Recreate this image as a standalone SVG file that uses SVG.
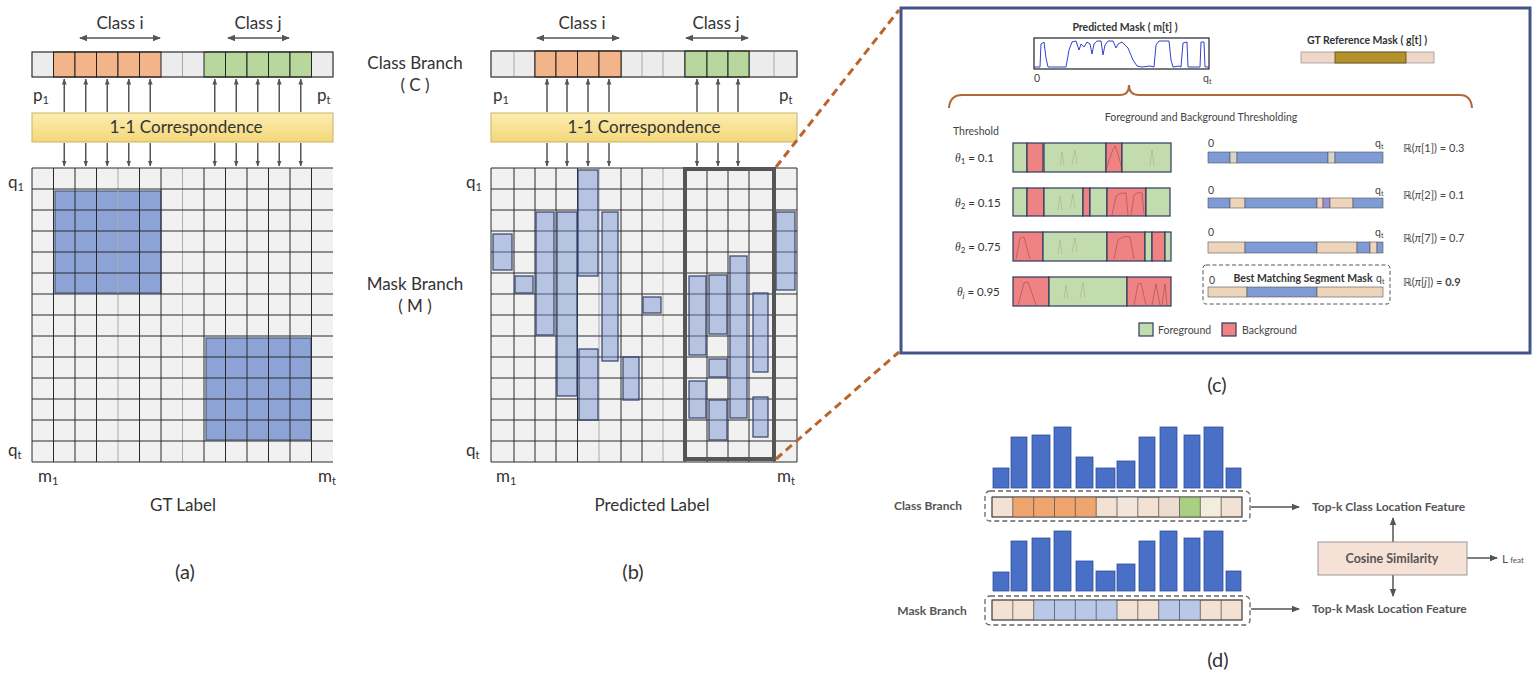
<svg xmlns="http://www.w3.org/2000/svg" width="1538" height="678" viewBox="0 0 1538 678">
<defs>
<style>
text{font-family:Lato,"Open Sans","DejaVu Sans",sans-serif;fill:#333}
.big{font-size:17px}
.lab{font-size:20px}
.sm{font-size:10.5px;fill:#444}
.smb{font-size:10.5px;font-weight:bold;fill:#333}
.db{font-size:12px;font-weight:bold;fill:#555}
.cell{fill:#ececec;stroke:#bbb;stroke-width:1}
.or{fill:#f3b48a;stroke:#222;stroke-width:1}
.gr{fill:#b7d79c;stroke:#222;stroke-width:1}
.grid{fill:none;stroke:#2a2a2a;stroke-width:1}
.gridl{fill:none;stroke:#aaa;stroke-width:1}
.arr{stroke:#555;stroke-width:1.5;fill:none}
.ua{stroke:#555;stroke-width:1.5;fill:none;marker-end:url(#ahs)}
.corr{fill:url(#yel);stroke:#c8b36a;stroke-width:1}
.bsq{fill:#8da3d6;stroke:#4a5a80;stroke-width:1.2}
.bpr{fill:#6f8fd0;fill-opacity:0.45;stroke:#34406a;stroke-width:1.2}
.fg{fill:#c3dcae;stroke:#2d3b5e;stroke-width:1.2}
.bg{fill:#ef8383;stroke:#2d3b5e;stroke-width:1.2}
.mb{fill:#7f9bd5;stroke:#555;stroke-width:0.6}
.mbe{fill:#efd4bc;stroke:#555;stroke-width:0.6}
.ml{fill:#d9d4c8;stroke:#555;stroke-width:0.6}
.bar{fill:#4a6fc6;stroke:#2f4f9a;stroke-width:0.8}
.dbox{fill:none;stroke:#666;stroke-width:1.3;stroke-dasharray:5 3}
.dc{stroke:#555;stroke-width:0.8}
.wave{fill:none;stroke:#8a3a3a;stroke-width:0.6;opacity:0.8}
.wg{fill:none;stroke:#9aab8a;stroke-width:0.5}
</style>
<linearGradient id="yel" x1="0" y1="0" x2="0" y2="1">
<stop offset="0" stop-color="#fcedb0"/>
<stop offset="1" stop-color="#f3d77a"/>
</linearGradient>
<marker id="ah" markerWidth="8" markerHeight="8" refX="7" refY="4" orient="auto-start-reverse" markerUnits="userSpaceOnUse">
<path d="M0,0.8 L8,4 L0,7.2 z" fill="#555"/>
</marker>
<marker id="ahs" markerWidth="6" markerHeight="6" refX="5.5" refY="3" orient="auto-start-reverse" markerUnits="userSpaceOnUse">
<path d="M0,0.6 L6,3 L0,5.4 z" fill="#555"/>
</marker>
</defs>
<rect width="1538" height="678" fill="#fff"/>

<!-- Panel (a) -->
<g id="panel-a">
<text class="big" x="120" y="29" text-anchor="middle">Class i</text>
<line class="arr" x1="80" y1="38" x2="160" y2="38" marker-start="url(#ah)" marker-end="url(#ah)"/>
<text class="big" x="258" y="29" text-anchor="middle">Class j</text>
<line class="arr" x1="228" y1="38" x2="289" y2="38" marker-start="url(#ah)" marker-end="url(#ah)"/>
<g id="a-classbar">
<rect class="cell" x="32" y="52" width="301" height="25"/>
<rect class="or" x="53.5" y="52" width="21.5" height="25"/>
<rect class="or" x="75" y="52" width="21.5" height="25"/>
<rect class="or" x="96.5" y="52" width="21.5" height="25"/>
<rect class="or" x="118" y="52" width="21.5" height="25"/>
<rect class="or" x="139.5" y="52" width="21.5" height="25"/>
<line class="gridl" x1="182.5" y1="52" x2="182.5" y2="77"/>
<rect class="gr" x="204" y="52" width="21.5" height="25"/>
<rect class="gr" x="225.5" y="52" width="21.5" height="25"/>
<rect class="gr" x="247" y="52" width="21.5" height="25"/>
<rect class="gr" x="268.5" y="52" width="21.5" height="25"/>
<rect class="gr" x="290" y="52" width="21.5" height="25"/>
<rect x="32" y="52" width="301" height="25" fill="none" stroke="#222" stroke-width="1"/>
</g>
<text class="big" x="33" y="101">p<tspan font-size="11" dy="3">1</tspan></text>
<text class="big" x="317" y="101">p<tspan font-size="11" dy="3">t</tspan></text>
<g id="a-corr">
<rect class="corr" x="32" y="113" width="301" height="29"/>
<text class="big" x="186" y="133" text-anchor="middle">1-1 Correspondence</text>
</g>
<g id="a-grid">
<rect x="32" y="168" width="301" height="294" fill="#f1f1f1"/>
<rect class="bsq" x="55" y="191" width="106" height="102"/>
<rect class="bsq" x="206" y="338" width="105" height="102"/>
<path class="grid" d="M32,168V462M53.5,168V462M75,168V462M96.5,168V462M139.5,168V462M161,168V462M204,168V462M225.5,168V462M247,168V462M268.5,168V462M290,168V462M311.5,168V462"/>
<path class="gridl" d="M118,168V462M182.5,168V462"/>
<path class="grid" d="M32,168H333M32,189H333M32,210H333M32,231H333M32,252H333M32,273H333M32,294H333M32,315H333M32,336H333M32,357H333M32,378H333M32,399H333M32,420H333M32,441H333M32,462H333"/>
</g>
<text class="big" x="8" y="188">q<tspan font-size="11" dy="3">1</tspan></text>
<text class="big" x="8" y="456">q<tspan font-size="11" dy="3">t</tspan></text>
<text class="big" x="38" y="482">m<tspan font-size="11" dy="3">1</tspan></text>
<text class="big" x="318" y="482">m<tspan font-size="11" dy="3">t</tspan></text>
<text class="big" x="183" y="511" text-anchor="middle">GT Label</text>
<text class="lab" x="185" y="579" text-anchor="middle">(a)</text>
</g>

<!-- Panel (b) -->
<g id="panel-b">
<text class="big" x="582" y="29" text-anchor="middle">Class i</text>
<line class="arr" x1="537" y1="38" x2="619" y2="38" marker-start="url(#ah)" marker-end="url(#ah)"/>
<text class="big" x="716" y="29" text-anchor="middle">Class j</text>
<line class="arr" x1="686" y1="38" x2="748" y2="38" marker-start="url(#ah)" marker-end="url(#ah)"/>
<text class="big" x="415" y="69" text-anchor="middle">Class Branch</text>
<text class="big" x="415" y="91" text-anchor="middle">( C )</text>
<text class="big" x="415" y="290" text-anchor="middle">Mask Branch</text>
<text class="big" x="415" y="312" text-anchor="middle">( M )</text>
<g id="b-classbar">
<rect class="cell" x="491" y="51" width="306" height="26"/>
<path class="gridl" d="M514,51V77M642,51V77M663,51V77M774,51V77"/>
<path class="grid" d="M535,51V77M621,51V77M685,51V77M749,51V77"/>
<rect class="or" x="535" y="51" width="21" height="26"/>
<rect class="or" x="556" y="51" width="21.5" height="26"/>
<rect class="or" x="577.5" y="51" width="21.5" height="26"/>
<rect class="or" x="599" y="51" width="22" height="26"/>
<rect class="gr" x="685" y="51" width="22" height="26"/>
<rect class="gr" x="707" y="51" width="21" height="26"/>
<rect class="gr" x="728" y="51" width="21" height="26"/>
<rect x="491" y="51" width="306" height="26" fill="none" stroke="#222" stroke-width="1"/>
</g>
<text class="big" x="493" y="101">p<tspan font-size="11" dy="3">1</tspan></text>
<text class="big" x="779" y="101">p<tspan font-size="11" dy="3">t</tspan></text>
<g id="b-corr">
<rect class="corr" x="491" y="113" width="306" height="29"/>
<text class="big" x="644" y="133" text-anchor="middle">1-1 Correspondence</text>
</g>
<g id="b-grid">
<rect x="491" y="168" width="306" height="294" fill="#f1f1f1"/>
<path class="grid" d="M491,168V462M514,168V462M535,168V462M556,168V462M577.5,168V462M621,168V462M642,168V462M685,168V462M707,168V462M728,168V462M749,168V462M774,168V462M797,168V462"/>
<path class="gridl" d="M599,168V462M663,168V462"/>
<path class="grid" d="M491,168H797M491,189H797M491,210H797M491,231H797M491,252H797M491,273H797M491,294H797M491,315H797M491,336H797M491,357H797M491,378H797M491,399H797M491,420H797M491,441H797M491,462H797"/>
<rect class="bpr" x="493" y="234" width="19" height="36"/>
<rect class="bpr" x="515" y="276" width="18" height="17"/>
<rect class="bpr" x="536" y="212" width="18" height="123"/>
<rect class="bpr" x="557" y="212" width="20" height="184"/>
<rect class="bpr" x="578" y="170" width="20" height="106"/>
<rect class="bpr" x="602" y="212" width="16" height="149"/>
<rect class="bpr" x="579" y="349" width="19" height="71"/>
<rect class="bpr" x="623" y="357" width="16" height="43"/>
<rect class="bpr" x="643" y="297" width="18" height="16"/>
<rect class="bpr" x="689" y="276" width="17" height="79"/>
<rect class="bpr" x="709" y="275" width="18" height="59"/>
<rect class="bpr" x="730" y="256" width="17" height="162"/>
<rect class="bpr" x="753" y="293" width="15" height="79"/>
<rect class="bpr" x="776" y="212" width="19" height="78"/>
<rect class="bpr" x="709" y="359" width="18" height="18"/>
<rect class="bpr" x="689" y="381" width="17" height="37"/>
<rect class="bpr" x="709" y="400" width="18" height="40"/>
<rect class="bpr" x="753" y="397" width="15" height="40"/>
<rect x="685" y="169" width="89" height="290" fill="none" stroke="#555" stroke-width="4"/>
</g>
<text class="big" x="466" y="188">q<tspan font-size="11" dy="3">1</tspan></text>
<text class="big" x="466" y="456">q<tspan font-size="11" dy="3">t</tspan></text>
<text class="big" x="496" y="482">m<tspan font-size="11" dy="3">1</tspan></text>
<text class="big" x="777" y="482">m<tspan font-size="11" dy="3">t</tspan></text>
<text class="big" x="652" y="511" text-anchor="middle">Predicted Label</text>
<text class="lab" x="633" y="579" text-anchor="middle">(b)</text>
</g>

<!-- Connectors -->
<g id="connectors">
<g id="a-arrows">
<line class="ua" x1="64.25" y1="112" x2="64.25" y2="79"/>
<line class="ua" x1="85.75" y1="112" x2="85.75" y2="79"/>
<line class="ua" x1="107.25" y1="112" x2="107.25" y2="79"/>
<line class="ua" x1="128.75" y1="112" x2="128.75" y2="79"/>
<line class="ua" x1="150.25" y1="112" x2="150.25" y2="79"/>
<line class="ua" x1="214.75" y1="112" x2="214.75" y2="79"/>
<line class="ua" x1="236.25" y1="112" x2="236.25" y2="79"/>
<line class="ua" x1="257.75" y1="112" x2="257.75" y2="79"/>
<line class="ua" x1="279.25" y1="112" x2="279.25" y2="79"/>
<line class="ua" x1="300.75" y1="112" x2="300.75" y2="79"/>
<line class="ua" x1="64.25" y1="143" x2="64.25" y2="166"/>
<line class="ua" x1="85.75" y1="143" x2="85.75" y2="166"/>
<line class="ua" x1="107.25" y1="143" x2="107.25" y2="166"/>
<line class="ua" x1="128.75" y1="143" x2="128.75" y2="166"/>
<line class="ua" x1="150.25" y1="143" x2="150.25" y2="166"/>
<line class="ua" x1="214.75" y1="143" x2="214.75" y2="166"/>
<line class="ua" x1="236.25" y1="143" x2="236.25" y2="166"/>
<line class="ua" x1="257.75" y1="143" x2="257.75" y2="166"/>
<line class="ua" x1="279.25" y1="143" x2="279.25" y2="166"/>
<line class="ua" x1="300.75" y1="143" x2="300.75" y2="166"/>
</g>
<g id="b-arrows">
<line class="ua" x1="547" y1="112" x2="547" y2="79"/>
<line class="ua" x1="567" y1="112" x2="567" y2="79"/>
<line class="ua" x1="588" y1="112" x2="588" y2="79"/>
<line class="ua" x1="609" y1="112" x2="609" y2="79"/>
<line class="ua" x1="697" y1="112" x2="697" y2="79"/>
<line class="ua" x1="718" y1="112" x2="718" y2="79"/>
<line class="ua" x1="738" y1="112" x2="738" y2="79"/>
<line class="ua" x1="547" y1="143" x2="547" y2="166"/>
<line class="ua" x1="567" y1="143" x2="567" y2="166"/>
<line class="ua" x1="588" y1="143" x2="588" y2="166"/>
<line class="ua" x1="609" y1="143" x2="609" y2="166"/>
<line class="ua" x1="697" y1="143" x2="697" y2="166"/>
<line class="ua" x1="718" y1="143" x2="718" y2="166"/>
<line class="ua" x1="738" y1="143" x2="738" y2="166"/>
</g>
<line x1="776" y1="167" x2="899" y2="10" stroke="#b8652e" stroke-width="3" stroke-dasharray="8 5"/>
<line x1="776" y1="459" x2="899" y2="352" stroke="#b8652e" stroke-width="3" stroke-dasharray="8 5"/>
<g id="c-arrows">
<line class="arr" stroke-width="1" x1="1182" y1="158" x2="1198" y2="158" marker-start="url(#ahs)" marker-end="url(#ahs)"/>
<line class="arr" stroke-width="1" x1="1182" y1="202" x2="1198" y2="202" marker-start="url(#ahs)" marker-end="url(#ahs)"/>
<line class="arr" stroke-width="1" x1="1182" y1="247" x2="1198" y2="247" marker-start="url(#ahs)" marker-end="url(#ahs)"/>
<line class="arr" stroke-width="1" x1="1182" y1="291" x2="1201" y2="291" marker-start="url(#ahs)" marker-end="url(#ahs)"/>
</g>
<g id="d-arrows">
<line class="arr" x1="1251" y1="507" x2="1299" y2="507" marker-end="url(#ah)"/>
<line class="arr" x1="1251" y1="609" x2="1299" y2="609" marker-end="url(#ah)"/>
<line class="arr" x1="1393" y1="542" x2="1393" y2="518" marker-end="url(#ah)"/>
<line class="arr" x1="1393" y1="575" x2="1393" y2="596" marker-end="url(#ah)"/>
<line class="arr" x1="1467" y1="558" x2="1497" y2="558" marker-end="url(#ah)"/>
</g>
</g>

<!-- Panel (c) -->
<g id="panel-c">
<rect x="901" y="8" width="629" height="345" fill="#fff" stroke="#44548a" stroke-width="3"/>
<text class="smb" x="1125" y="31" text-anchor="middle">Predicted Mask ( m[t] )</text>
<rect x="1034" y="38" width="175" height="31" fill="#fff" stroke="#222" stroke-width="1.2"/>
<path fill="none" stroke="#3340d0" stroke-width="1" d="M1034,67 L1040,67 L1041,44 L1044,42 L1046,58 L1048,67 L1066,67 L1069,50 L1072,42 L1076,41 L1079,50 L1081,44 L1084,47 L1087,42 L1090,44 L1092,54 L1094,44 L1097,41 L1101,41 L1103,55 L1105,45 L1108,41 L1113,41 L1116,48 L1118,44 L1122,42 L1128,48 L1133,60 L1137,66 L1142,67 L1150,66 L1154,67 L1156,45 L1159,41 L1169,41 L1171,60 L1173,67 L1179,66 L1181,67 L1183,43 L1187,42 L1188,67 L1200,67 L1201,42 L1204,42 L1205,67 L1209,67"/>
<text class="sm" x="1034" y="82">0</text>
<text class="sm" x="1203" y="82">q<tspan font-size="7" dy="2">t</tspan></text>
<text class="smb" x="1367" y="44" text-anchor="middle">GT Reference Mask ( g[t] )</text>
<rect x="1301" y="52" width="133" height="11" fill="#efd6c8" stroke="#999" stroke-width="0.8"/>
<rect x="1335" y="52" width="71" height="11" fill="#b5912b" stroke="#5a4a10" stroke-width="0.8"/>
<path fill="none" stroke="#b0693a" stroke-width="2" d="M949,108 Q950,95 962,95 L1120,95 Q1129,95 1129,85 Q1129,95 1139,95 L1460,95 Q1471,95 1472,108"/>
<text class="sm" x="1201" y="121" text-anchor="middle">Foreground and Background Thresholding</text>
<text class="sm" x="953" y="135">Threshold</text>
<text x="955" y="162" style="font-size:11.5px"><tspan font-style="italic" font-family="'Liberation Serif',serif">θ</tspan><tspan font-size="8" dy="2">1</tspan><tspan dy="-2"> = 0.1</tspan></text>
<text x="955" y="207" style="font-size:11.5px"><tspan font-style="italic" font-family="'Liberation Serif',serif">θ</tspan><tspan font-size="8" dy="2">2</tspan><tspan dy="-2"> = 0.15</tspan></text>
<text x="955" y="251" style="font-size:11.5px"><tspan font-style="italic" font-family="'Liberation Serif',serif">θ</tspan><tspan font-size="8" dy="2">2</tspan><tspan dy="-2"> = 0.75</tspan></text>
<text x="957" y="296" style="font-size:11.5px"><tspan font-style="italic" font-family="'Liberation Serif',serif">θ</tspan><tspan font-size="8" dy="2" font-style="italic">j</tspan><tspan dy="-2"> = 0.95</tspan></text>
<g id="c-row1">
<rect class="fg" x="1013" y="143" width="14" height="29"/>
<rect class="bg" x="1027" y="143" width="16" height="29"/>
<rect class="fg" x="1044" y="143" width="62" height="29"/>
<rect class="bg" x="1106" y="143" width="16" height="29"/>
<rect class="fg" x="1122" y="143" width="49" height="29"/>
<path class="wave" d="M1106,170 Q1112,150 1115,146 Q1118,152 1122,170"/>
<path class="wg" d="M1060,166 L1062,152 L1064,166 M1072,165 L1075,150 L1077,164 M1150,166 L1152,150 L1154,166"/>
</g>
<g id="c-row2">
<rect class="fg" x="1013" y="188" width="14" height="28"/>
<rect class="bg" x="1027" y="188" width="17" height="28"/>
<rect class="fg" x="1044" y="188" width="39" height="28"/>
<rect class="bg" x="1083" y="188" width="7" height="28"/>
<rect class="fg" x="1090" y="188" width="17" height="28"/>
<rect class="bg" x="1107" y="188" width="39" height="28"/>
<rect class="fg" x="1146" y="188" width="24" height="28"/>
<path class="wave" d="M1112,215 L1116,196 Q1120,192 1126,193 L1128,215 M1131,215 L1134,195 Q1138,191 1142,193 L1144,214"/>
<path class="wg" d="M1058,210 L1060,196 L1062,210 M1070,209 L1073,194 L1075,208"/>
</g>
<g id="c-row3">
<rect class="bg" x="1013" y="232" width="30" height="29"/>
<rect class="fg" x="1043" y="232" width="64" height="29"/>
<rect class="bg" x="1107" y="232" width="38" height="29"/>
<rect class="fg" x="1145" y="232" width="7" height="29"/>
<rect class="bg" x="1152" y="232" width="13" height="29"/>
<rect class="fg" x="1165" y="232" width="6" height="29"/>
<path class="wave" d="M1016,259 L1020,238 L1024,237 L1030,259 M1114,259 L1118,240 Q1124,235 1130,237 L1134,259"/>
<path class="wg" d="M1058,254 L1060,240 L1062,254 M1072,253 L1075,238 L1077,252"/>
</g>
<g id="c-row4">
<rect class="bg" x="1013" y="277" width="36" height="29"/>
<rect class="fg" x="1049" y="277" width="78" height="29"/>
<rect class="bg" x="1127" y="277" width="44" height="29"/>
<path class="wave" d="M1018,305 L1024,283 L1028,282 L1036,305 M1134,305 L1138,284 L1141,283 L1146,305 M1152,305 L1156,284 L1160,305 M1162,305 L1165,284 L1167,305"/>
<path class="wg" d="M1064,299 L1066,285 L1068,299 M1080,298 L1083,283 L1085,297"/>
</g>
<g id="c-mask1">
<text class="sm" x="1208" y="147">0</text>
<text class="sm" x="1375" y="147">q<tspan font-size="7" dy="2">t</tspan></text>
<rect class="mb" x="1208" y="152" width="22" height="11"/>
<rect class="ml" x="1230" y="152" width="7" height="11"/>
<rect class="mb" x="1237" y="152" width="91" height="11"/>
<rect class="ml" x="1328" y="152" width="7" height="11"/>
<rect class="mb" x="1335" y="152" width="48" height="11"/>
</g>
<g id="c-mask2">
<text class="sm" x="1208" y="194">0</text>
<text class="sm" x="1375" y="194">q<tspan font-size="7" dy="2">t</tspan></text>
<rect class="mb" x="1208" y="198" width="22" height="10"/>
<rect class="mbe" x="1230" y="198" width="15" height="10"/>
<rect class="mb" x="1245" y="198" width="72" height="10"/>
<rect class="mbe" x="1317" y="198" width="6" height="10"/>
<rect x="1323" y="198" width="7" height="10" fill="#9a8fd0" stroke="#555" stroke-width="0.6"/>
<rect class="mbe" x="1330" y="198" width="23" height="10"/>
<rect class="mb" x="1353" y="198" width="30" height="10"/>
</g>
<g id="c-mask3">
<text class="sm" x="1208" y="236">0</text>
<text class="sm" x="1375" y="236">q<tspan font-size="7" dy="2">t</tspan></text>
<rect class="mbe" x="1208" y="242" width="37" height="11"/>
<rect class="mb" x="1245" y="242" width="72" height="11"/>
<rect class="mbe" x="1317" y="242" width="40" height="11"/>
<rect class="mb" x="1357" y="242" width="13" height="11"/>
<rect class="mbe" x="1370" y="242" width="7" height="11"/>
<rect class="mb" x="1377" y="242" width="6" height="11"/>
</g>
<g id="c-best">
<rect x="1203" y="265" width="187" height="39" rx="3" fill="none" stroke="#555" stroke-width="1" stroke-dasharray="4 2.5"/>
<text class="smb" x="1303" y="282" text-anchor="middle">Best Matching Segment Mask</text>
<text class="sm" x="1209" y="284">0</text>
<text class="sm" x="1376" y="282">q<tspan font-size="7" dy="2">t</tspan></text>
<rect class="mbe" x="1208" y="287" width="39" height="10"/>
<rect class="mb" x="1247" y="287" width="70" height="10"/>
<rect class="mbe" x="1317" y="287" width="66" height="10"/>
</g>
<text class="sm" x="1403" y="152" style="font-size:11px">ℝ(<tspan font-style="italic">π</tspan>[1]) = 0.3</text>
<text class="sm" x="1403" y="199" style="font-size:11px">ℝ(<tspan font-style="italic">π</tspan>[2]) = 0.1</text>
<text class="sm" x="1403" y="242" style="font-size:11px">ℝ(<tspan font-style="italic">π</tspan>[7]) = 0.7</text>
<text class="sm" x="1403" y="286" style="font-size:11px">ℝ(<tspan font-style="italic">π</tspan>[<tspan font-style="italic">j</tspan>]) = <tspan font-weight="bold">0.9</tspan></text>
<g id="c-legend">
<rect class="fg" x="1139" y="323" width="14" height="13"/>
<text class="sm" x="1158" y="334">Foreground</text>
<rect class="bg" x="1222" y="323" width="14" height="13"/>
<text class="sm" x="1242" y="334">Background</text>
</g>
<text class="lab" x="1217" y="392" text-anchor="middle">(c)</text>
</g>

<!-- Panel (d) -->
<g id="panel-d">
<text class="db" x="928" y="510" text-anchor="middle">Class Branch</text>
<text class="db" x="932" y="615" text-anchor="middle">Mask Branch</text>
<g id="d-bars-class">
<rect class="bar" x="993" y="468" width="16" height="20"/>
<rect class="bar" x="1011" y="437" width="16" height="51"/>
<rect class="bar" x="1032" y="435" width="18" height="53"/>
<rect class="bar" x="1054" y="427" width="17" height="61"/>
<rect class="bar" x="1076" y="457" width="17" height="31"/>
<rect class="bar" x="1096" y="468" width="19" height="20"/>
<rect class="bar" x="1117" y="461" width="18" height="27"/>
<rect class="bar" x="1139" y="437" width="16" height="51"/>
<rect class="bar" x="1160" y="427" width="17" height="61"/>
<rect class="bar" x="1184" y="435" width="16" height="53"/>
<rect class="bar" x="1204" y="427" width="19" height="61"/>
<rect class="bar" x="1226" y="468" width="15" height="20"/>
</g>
<g id="d-class-strip">
<rect class="dbox" x="985" y="491" width="265" height="30" rx="5"/>
<rect x="992" y="497" width="250" height="20" fill="#f3e2d4" stroke="#444" stroke-width="0.8"/>
<rect x="1012.8" y="497" width="83.4" height="20" fill="#f0a46e"/>
<rect x="1117" y="497" width="20.8" height="20" fill="#f2e6dc"/>
<rect x="1158.7" y="497" width="20.8" height="20" fill="#efdcd0"/>
<rect x="1179.5" y="497" width="20.8" height="20" fill="#a8cf82"/>
<rect x="1200.3" y="497" width="20.9" height="20" fill="#f2eedb"/>
<path class="dc" d="M1012.8,497V517M1033.7,497V517M1054.5,497V517M1075.3,497V517M1096.2,497V517M1117,497V517M1137.8,497V517M1158.7,497V517M1179.5,497V517M1200.3,497V517M1221.2,497V517"/>
<rect x="992" y="497" width="250" height="20" fill="none" stroke="#444" stroke-width="0.8"/>
</g>
<g id="d-bars-mask">
<rect class="bar" x="993" y="572" width="16" height="19"/>
<rect class="bar" x="1011" y="541" width="16" height="50"/>
<rect class="bar" x="1032" y="538" width="18" height="53"/>
<rect class="bar" x="1054" y="531" width="17" height="60"/>
<rect class="bar" x="1076" y="561" width="17" height="30"/>
<rect class="bar" x="1096" y="571" width="19" height="20"/>
<rect class="bar" x="1117" y="564" width="18" height="27"/>
<rect class="bar" x="1139" y="541" width="16" height="50"/>
<rect class="bar" x="1160" y="531" width="17" height="60"/>
<rect class="bar" x="1184" y="538" width="16" height="53"/>
<rect class="bar" x="1204" y="531" width="19" height="60"/>
<rect class="bar" x="1226" y="571" width="15" height="20"/>
</g>
<g id="d-mask-strip">
<rect class="dbox" x="985" y="596" width="265" height="29" rx="5"/>
<rect x="992" y="600" width="250" height="20" fill="#f3e2d4" stroke="#444" stroke-width="0.8"/>
<rect x="1033.7" y="600" width="83.3" height="20" fill="#b9c8e6"/>
<rect x="1158.7" y="600" width="41.6" height="20" fill="#b9c8e6"/>
<path class="dc" d="M1012.8,600V620M1033.7,600V620M1054.5,600V620M1075.3,600V620M1096.2,600V620M1117,600V620M1137.8,600V620M1158.7,600V620M1179.5,600V620M1200.3,600V620M1221.2,600V620"/>
<rect x="992" y="600" width="250" height="20" fill="none" stroke="#444" stroke-width="0.8"/>
</g>
<text class="db" x="1312" y="511">Top-k Class Location Feature</text>
<text class="db" x="1312" y="613">Top-k Mask Location Feature</text>
<g id="d-cosine">
<rect x="1318" y="542" width="149" height="33" fill="#f5e1d6" stroke="#999" stroke-width="1"/>
<text class="db" x="1392" y="563" text-anchor="middle" style="font-size:12.5px">Cosine Similarity</text>
</g>
<text x="1502" y="563" style="font-size:12px;fill:#555">L<tspan font-size="8" dx="2">feat</tspan></text>
<text class="lab" x="1218" y="667" text-anchor="middle">(d)</text>
</g>
</svg>
